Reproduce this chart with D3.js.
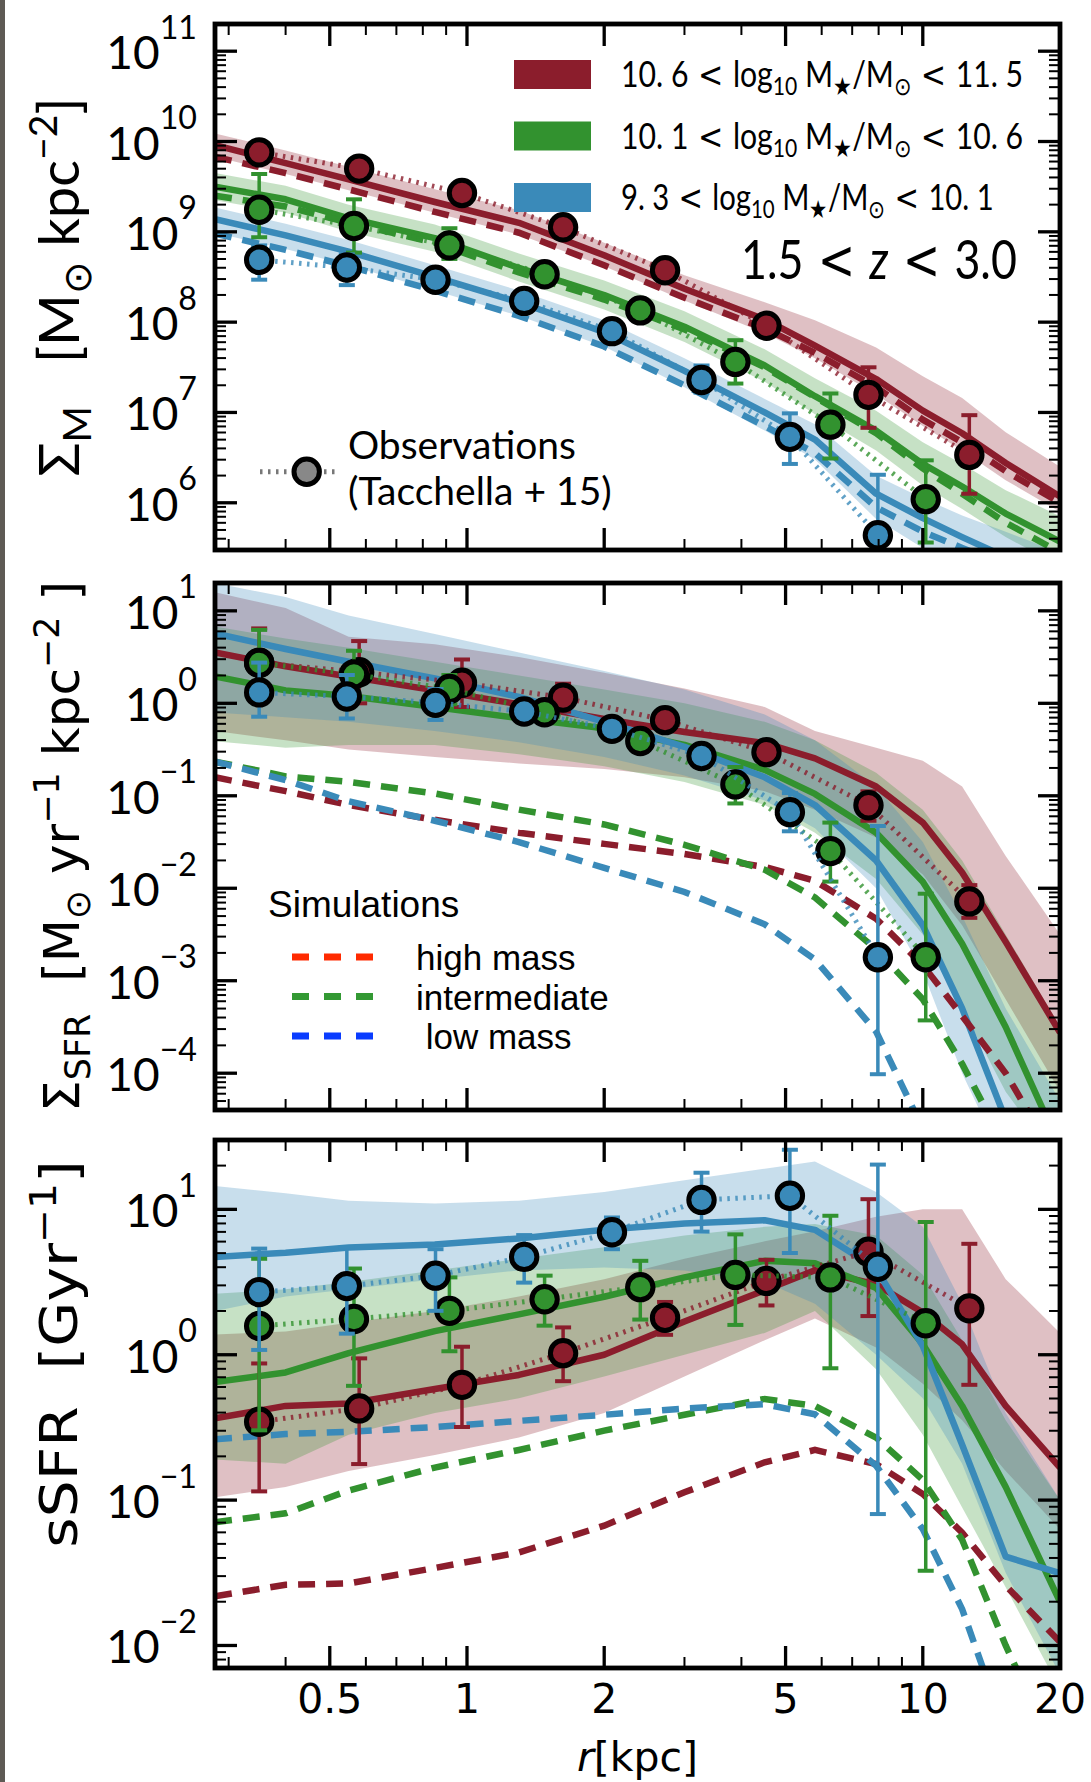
<!DOCTYPE html>
<html>
<head>
<meta charset="utf-8">
<script src="https://cdn.jsdelivr.net/npm/d3@7/dist/d3.min.js"></script>
<style>
  html, body { margin: 0; padding: 0; background: #fff; }
  svg { display: block; }
  text { white-space: pre; }
</style>
</head>
<body>
<svg id="chart" width="1091" height="1782"></svg>
<script>
// ---------------- data ----------------
// radial grid of the model profiles [kpc]
const radii = [0.28, 0.4, 0.55, 0.85, 1.3, 2.0, 3.0, 4.5, 5.8, 7.9, 10, 12.2, 15.2, 20];

// mass bins: high, intermediate, low
const binColors = ["#8b1d2c", "#32922f", "#3a8ab9"];
const simLegendColors = ["#ff2a00", "#339933", "#0a3cff"];
const simLegendNames = ["high mass", "intermediate", " low mass"];
const binLower = ["10. 6", "10. 1", "9. 3"];
const binUpper = ["11. 5", "10. 6", "10. 1"];

// observed radii per bin [kpc]
const obsR_high = [0.35, 0.58, 0.975, 1.625, 2.72, 4.54, 7.6, 12.65];
const obsR_mid  = [0.35, 0.565, 0.915, 1.48, 2.4, 3.88, 6.27, 10.15];
const obsR_low  = [0.35, 0.545, 0.853, 1.335, 2.08, 3.27, 5.11, 7.97];

// ---- stellar mass surface density, log10 [Msun kpc^-2] ----
const sigM_line_high = [9.96, 9.76, 9.58, 9.33, 9.10, 8.74, 8.37, 8.03, 7.74, 7.37, 7.02, 6.77, 6.44, 6.07];
const sigM_hi_high   = [10.09, 9.90, 9.72, 9.47, 9.24, 8.88, 8.52, 8.22, 8.02, 7.72, 7.40, 7.16, 6.78, 6.40];
const sigM_lo_high   = [9.83, 9.64, 9.46, 9.21, 8.97, 8.62, 8.24, 7.88, 7.60, 7.20, 6.85, 6.58, 6.25, 5.90];
const sigM_sim_high  = [9.83, 9.65, 9.47, 9.22, 8.99, 8.63, 8.27, 7.93, 7.66, 7.28, 6.92, 6.67, 6.35, 6.00];
const sigM_line_mid  = [9.50, 9.36, 9.15, 8.93, 8.60, 8.30, 7.95, 7.52, 7.18, 6.80, 6.43, 6.18, 5.88, 5.57];
const sigM_hi_mid    = [9.65, 9.51, 9.30, 9.08, 8.76, 8.46, 8.12, 7.70, 7.38, 7.02, 6.67, 6.43, 6.14, 5.85];
const sigM_lo_mid    = [9.35, 9.21, 9.00, 8.78, 8.45, 8.14, 7.78, 7.34, 6.98, 6.58, 6.19, 5.93, 5.62, 5.30];
const sigM_sim_mid   = [9.40, 9.28, 9.10, 8.88, 8.55, 8.25, 7.92, 7.50, 7.17, 6.77, 6.38, 6.10, 5.78, 5.45];
const sigM_line_low  = [9.14, 8.96, 8.78, 8.50, 8.22, 7.89, 7.46, 7.00, 6.70, 6.10, 5.83, 5.62, 5.40, 5.15];
const sigM_hi_low    = [9.27, 9.09, 8.91, 8.63, 8.35, 8.02, 7.60, 7.15, 6.87, 6.30, 6.05, 5.86, 5.68, 5.45];
const sigM_lo_low    = [8.99, 8.81, 8.63, 8.35, 8.07, 7.73, 7.28, 6.80, 6.48, 5.82, 5.50, 5.30, 5.12, 4.90];
const sigM_sim_low   = [8.98, 8.80, 8.62, 8.35, 8.07, 7.73, 7.30, 6.85, 6.55, 5.95, 5.68, 5.50, 5.30, 5.00];
const sigM_obs_high  = [9.88, 9.70, 9.43, 9.05, 8.575, 7.96, 7.195, 6.53];
const sigM_err_high  = [[9.83,9.93],[9.65,9.75],[9.38,9.48],[9.0,9.1],[8.53,8.62],[7.91,8.01],[6.83,7.50],[6.10,6.97]];
const sigM_obs_mid   = [9.245, 9.065, 8.85, 8.53, 8.13, 7.56, 6.865, 6.04];
const sigM_err_mid   = [[8.94,9.64],[8.77,9.36],[8.70,9.04],[8.48,8.58],[8.08,8.18],[7.32,7.80],[6.49,7.21],[5.56,6.47]];
const sigM_obs_low   = [8.69, 8.605, 8.47, 8.235, 7.90, 7.36, 6.73, 5.64];
const sigM_err_low   = [[8.47,8.85],[8.41,8.75],[8.42,8.52],[8.19,8.28],[7.85,7.95],[7.22,7.52],[6.43,6.99],[4.90,6.31]];

// ---- star formation rate surface density, log10 [Msun yr^-1 kpc^-2] ----
const sigSFR_line_high = [0.55, 0.40, 0.29, 0.14, -0.01, -0.17, -0.31, -0.43, -0.595, -0.90, -1.29, -1.83, -2.58, -3.56];
const sigSFR_hi_high   = [1.2, 1.03, 0.72, 0.64, 0.50, 0.33, 0.16, -0.04, -0.30, -0.48, -0.62, -0.90, -1.65, -2.5];
const sigSFR_lo_high   = [-0.30, -0.40, -0.50, -0.58, -0.65, -0.71, -0.80, -0.95, -1.15, -1.45, -1.85, -2.40, -3.2, -4.2];
const sigSFR_sim_high  = [-0.80, -0.95, -1.10, -1.26, -1.40, -1.52, -1.63, -1.77, -1.92, -2.33, -2.83, -3.38, -4.0, -5.0];
const sigSFR_line_mid  = [0.29, 0.14, 0.08, -0.04, -0.16, -0.27, -0.45, -0.72, -0.98, -1.40, -1.93, -2.60, -3.50, -4.8];
const sigSFR_hi_mid    = [0.83, 0.70, 0.60, 0.45, 0.30, 0.15, 0.0, -0.20, -0.40, -0.75, -1.15, -1.7, -2.5, -3.5];
const sigSFR_lo_mid    = [-0.41, -0.48, -0.45, -0.45, -0.55, -0.68, -0.85, -1.1, -1.4, -1.9, -2.5, -3.3, -4.2, -5.0];
const sigSFR_sim_mid   = [-0.63, -0.79, -0.85, -0.975, -1.15, -1.31, -1.53, -1.80, -2.10, -2.66, -3.2, -3.9, -4.8, -5.8];
const sigSFR_line_low  = [0.756, 0.587, 0.45, 0.27, 0.07, -0.20, -0.47, -0.80, -1.10, -1.70, -2.40, -3.3, -4.5, -5.5];
const sigSFR_hi_low    = [1.30, 1.15, 0.95, 0.75, 0.55, 0.35, 0.15, -0.12, -0.40, -0.90, -1.5, -2.3, -3.3, -4.3];
const sigSFR_lo_low    = [-0.10, -0.15, -0.20, -0.30, -0.42, -0.58, -0.78, -1.05, -1.35, -2.0, -2.9, -4.0, -5.0, -6.0];
const sigSFR_sim_low   = [-0.63, -0.83, -1.06, -1.27, -1.50, -1.78, -2.04, -2.39, -2.77, -3.55, -4.6, -5.5, -6.5, -7.5];
const sigSFR_obs_high  = [0.44, 0.336, 0.223, 0.062, -0.182, -0.528, -1.102, -2.142];
const sigSFR_err_high  = [[0.10,0.81],[0.0,0.673],[-0.04,0.474],[-0.09,0.212],[-0.23,-0.13],[-0.58,-0.47],[-1.27,-0.952],[-2.32,-1.966]];
const sigSFR_obs_mid   = [0.437, 0.313, 0.155, -0.096, -0.408, -0.877, -1.598, -2.746];
const sigSFR_err_mid   = [[0.08,0.794],[0.043,0.568],[-0.01,0.306],[-0.15,-0.05],[-0.46,-0.36],[-1.083,-0.689],[-1.928,-1.29],[-3.429,-2.059]];
const sigSFR_obs_low   = [0.118, 0.073, 0.005, -0.089, -0.276, -0.569, -1.177, -2.746];
const sigSFR_err_low   = [[-0.145,0.44],[-0.164,0.306],[-0.18,0.155],[-0.14,-0.04],[-0.33,-0.22],[-0.62,-0.52],[-1.384,-0.971],[-4.011,-1.327]];

// ---- specific star formation rate, log10 [Gyr^-1] ----
const sSFR_line_high = [-0.437, -0.352, -0.335, -0.236, -0.139, 0.0, 0.229, 0.443, 0.581, 0.484, 0.29, 0.072, -0.352, -0.776];
const sSFR_hi_high   = [0.14, 0.16, 0.22, 0.30, 0.40, 0.52, 0.66, 0.78, 0.85, 0.95, 1.0, 1.0, 0.52, 0.15];
const sSFR_lo_high   = [-0.98, -0.91, -0.80, -0.69, -0.57, -0.40, -0.15, 0.10, 0.25, 0.05, -0.2, -0.45, -0.8, -1.2];
const sSFR_sim_high  = [-1.661, -1.583, -1.573, -1.467, -1.36, -1.176, -0.946, -0.74, -0.655, -0.752, -0.958, -1.224, -1.588, -1.976];
const sSFR_line_mid  = [-0.187, -0.122, 0.011, 0.162, 0.278, 0.399, 0.532, 0.646, 0.629, 0.460, 0.072, -0.352, -0.909, -1.70];
const sSFR_hi_mid    = [0.42, 0.45, 0.50, 0.58, 0.66, 0.74, 0.82, 0.88, 0.90, 0.82, 0.55, 0.10, -0.45, -1.0];
const sSFR_lo_mid    = [-0.72, -0.75, -0.55, -0.40, -0.30, -0.15, 0.0, 0.15, 0.30, -0.10, -0.55, -1.05, -1.6, -2.3];
const sSFR_sim_mid   = [-1.152, -1.091, -0.934, -0.776, -0.655, -0.522, -0.413, -0.304, -0.352, -0.570, -0.861, -1.273, -2.0, -2.8];
const sSFR_line_low  = [0.673, 0.702, 0.738, 0.758, 0.80, 0.859, 0.903, 0.925, 0.859, 0.593, 0.06, -0.619, -1.389, -1.503];
const sSFR_hi_low    = [1.16, 1.11, 1.06, 1.04, 1.06, 1.12, 1.20, 1.28, 1.33, 1.12, 0.88, 0.35, -0.4, -1.0];
const sSFR_lo_low    = [0.30, 0.40, 0.45, 0.52, 0.58, 0.60, 0.58, 0.50, 0.35, 0.0, -0.30, -0.75, -1.5, -2.2];
const sSFR_sim_low   = [-0.582, -0.546, -0.53, -0.497, -0.455, -0.413, -0.37, -0.34, -0.41, -0.764, -1.2, -1.75, -2.6, -3.5];
const sSFR_obs_high  = [-0.461, -0.369, -0.207, 0.011, 0.254, 0.508, 0.709, 0.319];
const sSFR_err_high  = [[-0.94,-0.06],[-0.752,-0.025],[-0.497,0.055],[-0.182,0.188],[0.137,0.363],[0.339,0.653],[0.266,1.07],[-0.207,0.763]];
const sSFR_obs_mid   = [0.198, 0.246, 0.302, 0.382, 0.465, 0.549, 0.532, 0.217];
const sSFR_err_mid   = [[-0.52,0.66],[-0.214,0.593],[0.024,0.532],[0.20,0.544],[0.242,0.646],[0.205,0.828],[-0.093,0.956],[-1.486,0.913]];
const sSFR_obs_low   = [0.431, 0.472, 0.544, 0.673, 0.843, 1.065, 1.094, 0.605];
const sSFR_err_low   = [[0.033,0.73],[0.145,0.738],[0.302,0.726],[0.496,0.823],[0.726,0.944],[0.847,1.252],[0.70,1.41],[-1.096,1.308]];

// axis ticks
const xMajor = [0.5, 1, 2, 5, 10, 20];
const xMinor = [0.3, 0.4, 0.6, 0.7, 0.8, 0.9, 3, 4, 6, 7, 8, 9];
const xTickLabels = ["0.5", "1", "2", "5", "10", "20"];

// ---------------- layout ----------------
const plotLeft = 215, plotRight = 1060;
const fontGill = "Lato, 'Open Sans', sans-serif";
const fontDV = "'DejaVu Sans', sans-serif";
const fontHelv = "'Liberation Sans', Arial, sans-serif";

const obsRadii = [obsR_high, obsR_mid, obsR_low];

const panels = [
  { top: 24, bottom: 550, domain: [3e5, 2e11], decades: [6, 7, 8, 9, 10, 11],
    bins: [
      { line: sigM_line_high, lo: sigM_lo_high, hi: sigM_hi_high, sim: sigM_sim_high, obs: sigM_obs_high, err: sigM_err_high },
      { line: sigM_line_mid,  lo: sigM_lo_mid,  hi: sigM_hi_mid,  sim: sigM_sim_mid,  obs: sigM_obs_mid,  err: sigM_err_mid },
      { line: sigM_line_low,  lo: sigM_lo_low,  hi: sigM_hi_low,  sim: sigM_sim_low,  obs: sigM_obs_low,  err: sigM_err_low } ] },
  { top: 583, bottom: 1110, domain: [4e-5, 20], decades: [-4, -3, -2, -1, 0, 1],
    bins: [
      { line: sigSFR_line_high, lo: sigSFR_lo_high, hi: sigSFR_hi_high, sim: sigSFR_sim_high, obs: sigSFR_obs_high, err: sigSFR_err_high },
      { line: sigSFR_line_mid,  lo: sigSFR_lo_mid,  hi: sigSFR_hi_mid,  sim: sigSFR_sim_mid,  obs: sigSFR_obs_mid,  err: sigSFR_err_mid },
      { line: sigSFR_line_low,  lo: sigSFR_lo_low,  hi: sigSFR_hi_low,  sim: sigSFR_sim_low,  obs: sigSFR_obs_low,  err: sigSFR_err_low } ] },
  { top: 1140, bottom: 1668, domain: [7e-3, 30], decades: [-2, -1, 0, 1],
    bins: [
      { line: sSFR_line_high, lo: sSFR_lo_high, hi: sSFR_hi_high, sim: sSFR_sim_high, obs: sSFR_obs_high, err: sSFR_err_high },
      { line: sSFR_line_mid,  lo: sSFR_lo_mid,  hi: sSFR_hi_mid,  sim: sSFR_sim_mid,  obs: sSFR_obs_mid,  err: sSFR_err_mid },
      { line: sSFR_line_low,  lo: sSFR_lo_low,  hi: sSFR_hi_low,  sim: sSFR_sim_low,  obs: sSFR_obs_low,  err: sSFR_err_low } ] }
];

const svg = d3.select("#chart");
svg.append("rect").attr("width", 1091).attr("height", 1782).attr("fill", "#fff");
svg.append("rect").attr("x", 0).attr("y", 0).attr("width", 5).attr("height", 1782).attr("fill", "#5e5a55");

const x = d3.scaleLog().domain([0.28, 20]).range([plotLeft, plotRight]);

// text with sub/superscript runs: parts = [[text, "sub"|"sup"|null, style?], ...]
// style "i" = italic, "m" = math symbol font
function rich(sel, parts, size, opt = {}) {
  const subOff = opt.sub ?? 0.22, supOff = opt.sup ?? -0.45, scale = opt.scale ?? 0.7;
  let cur = 0;
  parts.forEach(([t, kind, style]) => {
    let off = 0, fs = size;
    if (kind === "sub") { off = subOff * size; fs = size * scale; }
    else if (kind === "sup") { off = supOff * size; fs = size * scale; }
    const ts = sel.append("tspan").text(t).attr("font-size", fs);
    if (off !== cur) ts.attr("dy", off - cur);
    if (style === "i") ts.attr("font-style", "italic");
    if (style === "m") ts.attr("font-family", fontDV);
    cur = off;
  });
}

// squeeze a text horizontally so that it spans the given width from x0
function fitWidth(t, x0, width) {
  const s = width / t.node().getComputedTextLength();
  t.attr("transform", `translate(${x0},0) scale(${s},1) translate(${-x0},0)`);
}

function drawPanel(p, idx) {
  const y = d3.scaleLog().domain(p.domain).range([p.bottom, p.top]);
  const yv = v => y(Math.pow(10, v));

  svg.append("clipPath").attr("id", "clip" + idx).append("rect")
    .attr("x", plotLeft).attr("y", p.top).attr("width", plotRight - plotLeft).attr("height", p.bottom - p.top);
  const plot = svg.append("g").attr("clip-path", `url(#clip${idx})`);

  const area = d3.area().x((d, i) => x(radii[i])).y0(d => yv(d[0])).y1(d => yv(d[1]));
  const line = d3.line().x((d, i) => x(radii[i])).y(d => yv(d));

  // scatter bands
  p.bins.forEach((b, k) => {
    plot.append("path").datum(b.lo.map((v, i) => [v, b.hi[i]])).attr("d", area)
      .attr("fill", binColors[k]).attr("fill-opacity", 0.28);
  });
  // median profiles
  p.bins.forEach((b, k) => {
    plot.append("path").datum(b.line).attr("d", line).attr("fill", "none")
      .attr("stroke", binColors[k]).attr("stroke-width", 6.5).attr("stroke-linejoin", "round");
  });
  // simulation profiles (dashed)
  p.bins.forEach((b, k) => {
    plot.append("path").datum(b.sim).attr("d", line).attr("fill", "none")
      .attr("stroke", binColors[k]).attr("stroke-width", 6.5).attr("stroke-dasharray", "17,11");
  });
  // observations
  p.bins.forEach((b, k) => {
    const rr = obsRadii[k];
    const obsLine = d3.line().x((d, i) => x(rr[i])).y(d => yv(d));
    plot.append("path").datum(b.obs).attr("d", obsLine).attr("fill", "none")
      .attr("stroke", binColors[k]).attr("stroke-opacity", 0.8)
      .attr("stroke-width", 5).attr("stroke-dasharray", "2.5,5.5");
    const eg = plot.append("g").attr("stroke", binColors[k]);
    b.err.forEach((e, i) => {
      const cx = x(rr[i]);
      eg.append("line").attr("x1", cx).attr("x2", cx).attr("y1", yv(e[0])).attr("y2", yv(e[1])).attr("stroke-width", 3.5);
      [e[0], e[1]].forEach(v => eg.append("line").attr("x1", cx - 8).attr("x2", cx + 8)
        .attr("y1", yv(v)).attr("y2", yv(v)).attr("stroke-width", 4));
    });
    plot.append("g").selectAll("circle").data(b.obs).join("circle")
      .attr("cx", (d, i) => x(rr[i])).attr("cy", d => yv(d)).attr("r", 12.7)
      .attr("fill", binColors[k]).attr("stroke", "#000").attr("stroke-width", 5);
  });

  // ticks
  const tk = svg.append("g").attr("stroke", "#000");
  const majLen = 22, minLen = 11;
  xMajor.forEach(v => {
    const xx = x(v);
    tk.append("line").attr("x1", xx).attr("x2", xx).attr("y1", p.top).attr("y2", p.top + majLen).attr("stroke-width", 3.3);
    tk.append("line").attr("x1", xx).attr("x2", xx).attr("y1", p.bottom).attr("y2", p.bottom - majLen).attr("stroke-width", 3.3);
  });
  xMinor.forEach(v => {
    const xx = x(v);
    tk.append("line").attr("x1", xx).attr("x2", xx).attr("y1", p.top).attr("y2", p.top + minLen).attr("stroke-width", 2);
    tk.append("line").attr("x1", xx).attr("x2", xx).attr("y1", p.bottom).attr("y2", p.bottom - minLen).attr("stroke-width", 2);
  });
  const [lo, hi] = p.domain;
  for (let n = Math.floor(Math.log10(lo)); n <= Math.ceil(Math.log10(hi)); n++) {
    for (let m = 1; m <= 9; m++) {
      const v = m * Math.pow(10, n);
      if (v < lo || v > hi) continue;
      const yy = y(v), len = m === 1 ? majLen : minLen, sw = m === 1 ? 3.3 : 2;
      tk.append("line").attr("x1", plotLeft).attr("x2", plotLeft + len).attr("y1", yy).attr("y2", yy).attr("stroke-width", sw);
      tk.append("line").attr("x1", plotRight).attr("x2", plotRight - len).attr("y1", yy).attr("y2", yy).attr("stroke-width", sw);
    }
  }
  // frame
  svg.append("rect").attr("x", plotLeft).attr("y", p.top).attr("width", plotRight - plotLeft)
    .attr("height", p.bottom - p.top).attr("fill", "none").attr("stroke", "#000").attr("stroke-width", 4.8);

  // y tick labels
  p.decades.forEach(n => {
    const t = svg.append("text").attr("x", 197).attr("y", y(Math.pow(10, n)) + 18)
      .attr("text-anchor", "end").attr("font-family", fontGill).attr("fill", "#000");
    rich(t, [["10", null], [String(n).replace("-", "\u2212"), "sup"]], 46, { sup: -0.66, scale: 0.7 });
  });
  return y;
}

const yScales = panels.map(drawPanel);

// x tick labels
xMajor.forEach((v, i) => {
  svg.append("text").attr("x", x(v)).attr("y", 1713).attr("text-anchor", "middle")
    .attr("font-family", fontDV).attr("font-size", 41).text(xTickLabels[i]);
});
// x axis title
{
  const t = svg.append("text").attr("x", (plotLeft + plotRight) / 2).attr("y", 1771)
    .attr("text-anchor", "middle").attr("font-family", fontDV);
  rich(t, [["r", null, "i"], ["[kpc]", null]], 41);
}

// y axis titles (stretch = scale along the text direction)
function yTitle(cx, cy, parts, size, family, opt, stretch = 1) {
  const t = svg.append("text").attr("transform", `translate(${cx},${cy}) rotate(-90) scale(${stretch},1)`)
    .attr("text-anchor", "middle").attr("font-family", family);
  rich(t, parts, size, opt);
}
yTitle(79, (panels[0].top + panels[0].bottom) / 2,
  [["\u03a3", null], ["M", "sub"], ["   [M", null], ["\u2299", "sub"], [" kpc", null], ["\u22122", "sup"], ["]", null]], 56, fontGill, { sup: -0.4 });
yTitle(79, (panels[1].top + panels[1].bottom) / 2,
  [["\u03a3", null], ["SFR", "sub"], ["  [M", null], ["\u2299", "sub"], [" yr", null], ["\u22121", "sup"], [" kpc", null], ["\u22122", "sup"], [" ]", null]], 50, fontDV, { sup: -0.4 });
yTitle(77, 1354,
  [["sSFR  [Gyr", null], ["\u22121", "sup"], ["]", null]], 52, fontDV, { sup: -0.4 }, 1.12);

// mass-bin legend (top panel)
const legendWidths = [402, 402, 372];
binColors.forEach((c, k) => {
  const y0 = 60 + k * 61.5;
  svg.append("rect").attr("x", 514).attr("y", y0).attr("width", 77).attr("height", 29).attr("fill", c);
  const t = svg.append("text").attr("x", 621).attr("y", y0 + 27.5).attr("font-family", fontGill).attr("fill", "#000");
  rich(t, [[binLower[k], null], [" < ", null, "m"], ["log", null], ["10", "sub"], [" M", null], ["\u2605", "sub"],
           ["/M", null], ["\u2299", "sub"], [" < ", null, "m"], [binUpper[k], null]], 36);
  fitWidth(t, 621, legendWidths[k]);
});
{
  const t = svg.append("text").attr("x", 741).attr("y", 279).attr("font-family", fontGill);
  rich(t, [["1.5", null], [" < ", null, "m"], ["z", null, "i"], [" < ", null, "m"], ["3.0", null]], 55);
  fitWidth(t, 741, 276);
}

// observations legend
svg.append("line").attr("x1", 260).attr("x2", 337).attr("y1", 471.7).attr("y2", 471.7)
  .attr("stroke", "#777").attr("stroke-width", 5).attr("stroke-dasharray", "2.5,5.5");
svg.append("circle").attr("cx", 306.7).attr("cy", 471.7).attr("r", 12.7)
  .attr("fill", "#888").attr("stroke", "#000").attr("stroke-width", 5);
svg.append("text").attr("x", 348).attr("y", 459).attr("font-family", fontGill).attr("font-size", 39).text("Observations");
svg.append("text").attr("x", 348).attr("y", 505).attr("font-family", fontGill).attr("font-size", 39).text("(Tacchella + 15)");

// simulations legend (middle panel)
svg.append("text").attr("x", 268).attr("y", 917).attr("font-family", fontHelv).attr("font-size", 37).text("Simulations");
simLegendColors.forEach((c, k) => {
  const yy = 957 + k * 39.5;
  svg.append("line").attr("x1", 292).attr("x2", 375).attr("y1", yy).attr("y2", yy)
    .attr("stroke", c).attr("stroke-width", 7).attr("stroke-dasharray", "17,15");
  svg.append("text").attr("x", 416).attr("y", yy + 13).attr("font-family", fontHelv).attr("font-size", 35).text(simLegendNames[k]);
});
</script>
</body>
</html>
